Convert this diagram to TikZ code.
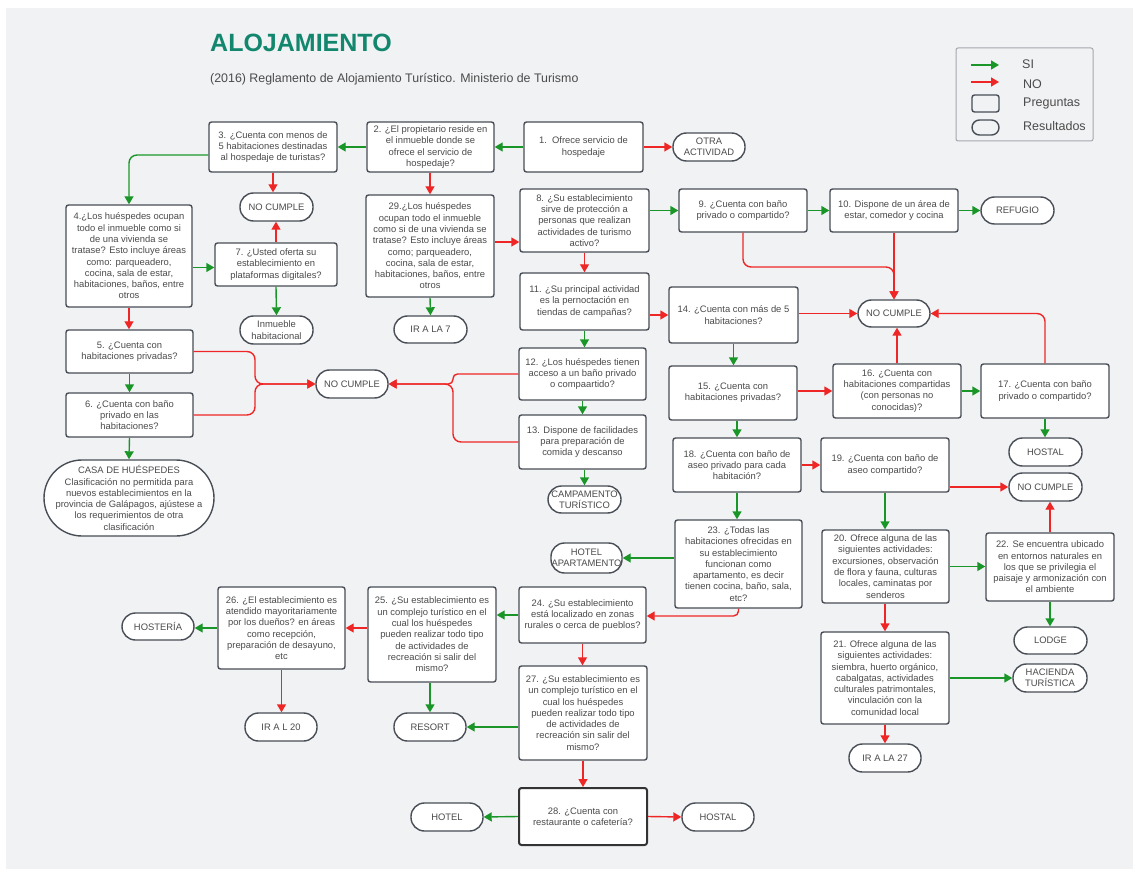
\documentclass[tikz,border=0pt]{standalone}
\usepackage{fontspec}
\setmainfont{Liberation Sans}
\usetikzlibrary{arrows.meta}

\definecolor{bg}{RGB}{241,242,244}
\definecolor{sigreen}{RGB}{26,150,40}
\definecolor{nored}{RGB}{238,38,38}
\definecolor{boxline}{RGB}{72,77,86}
\definecolor{txt}{RGB}{75,75,75}
\definecolor{titleteal}{RGB}{18,135,110}
\definecolor{legline}{RGB}{165,168,174}

\newcommand{\boxfont}{\fontsize{9.4}{11.3}\selectfont}
\newcommand{\legfont}{\fontsize{12.5}{14}\selectfont}

\tikzset{
  qbox/.style={draw=boxline, line width=1.4pt, fill=white, rounded corners=2.5pt,
    align=center, inner sep=0pt, font=\boxfont, text=txt},
  pill/.style={draw=boxline, line width=1.4pt, fill=white, rounded corners=13.5pt,
    align=center, inner sep=0pt, font=\boxfont, text=txt,
    minimum width=72pt, minimum height=28pt},
  si/.style={draw=sigreen, line width=1.4pt, rounded corners=8pt,
    -{Triangle[length=8pt,width=9pt]}},
  no/.style={draw=nored, line width=1.4pt, rounded corners=8pt,
    -{Triangle[length=8pt,width=9pt]}},
  legtxt/.style={anchor=west, inner sep=0pt, font=\legfont, text=txt},
}

\begin{document}
\begin{tikzpicture}[x=1pt,y=-1pt]
\useasboundingbox (0,0) rectangle (1137,874);
\fill[bg] (6,8) rectangle (1133,869);

% heading
\node[anchor=base west, inner sep=0pt, font=\fontsize{25}{30}\selectfont\bfseries, text=titleteal] (title) at (210,52) {ALOJAMIENTO};
\node[anchor=base west, inner sep=0pt, font=\fontsize{12.4}{14}\selectfont, text=txt] (subtitle) at (210,83) {(2016) Reglamento de Alojamiento Turístico. Ministerio de Turismo};

% legend
\node[draw=legline, line width=1pt, rounded corners=2pt, fill=bg, minimum width=137pt, minimum height=93pt] (legend) at (1024.5,94.5) {};
\coordinate (lgA) at (971,65);  \coordinate (lgB) at (999,65);
\coordinate (lrA) at (971,82);  \coordinate (lrB) at (999,82);
\draw[si, rounded corners=0pt] (lgA) -- (lgB);
\draw[no, rounded corners=0pt] (lrA) -- (lrB);
\node[draw=boxline, line width=1.4pt, rounded corners=2.5pt, minimum width=27pt, minimum height=17pt] (lq) at (985.5,103.5) {};
\node[draw=boxline, line width=1.4pt, rounded corners=7.5pt, minimum width=27pt, minimum height=15pt] (lp) at (985.5,127.5) {};
\node[legtxt] (lsi) at (1022,64) {SI};
\node[legtxt] (lno) at (1023,84) {NO};
\node[legtxt] (lpre) at (1023,104) {Preguntas};
\node[legtxt] (lres) at (1023,126) {Resultados};

% questions
\node[qbox, minimum width=119pt, minimum height=50pt] (n1) at (583.5,147) {1.\ \ Ofrece servicio de\\hospedaje};
\node[qbox, minimum width=127pt, minimum height=50pt] (n2) at (430.5,147) {2. ¿El propietario reside en\\el inmueble donde se\\ofrece el servicio de\\hospedaje?};
\node[qbox, minimum width=128pt, minimum height=50pt] (n3) at (273,147) {3. ¿Cuenta con menos de\\5 habitaciones destinadas\\al hospedaje de turistas?};
\node[qbox, minimum width=126pt, minimum height=102pt] (n4) at (129,256) {4.¿Los huéspedes ocupan\\todo el inmueble como si\\de una vivienda se\\tratase? Esto incluye áreas\\como: parqueadero,\\cocina, sala de estar,\\habitaciones, baños, entre\\otros};
\node[qbox, minimum width=122pt, minimum height=43pt] (n7) at (276,264.5) {7. ¿Usted oferta su\\establecimiento en\\plataformas digitales?};
\node[qbox, minimum width=127pt, minimum height=43pt] (n5) at (129.5,351.5) {5. ¿Cuenta con\\habitaciones privadas?};
\node[qbox, minimum width=127pt, minimum height=44pt] (n6) at (129.5,415) {6. ¿Cuenta con baño\\privado en las\\habitaciones?};
\node[qbox, minimum width=128pt, minimum height=102pt] (n29) at (430,246) {29.¿Los huéspedes\\ocupan todo el inmueble\\como si de una vivienda se\\tratase? Esto incluye áreas\\como; parqueadero,\\cocina, sala de estar,\\habitaciones, baños, entre\\otros};
\node[qbox, minimum width=129pt, minimum height=63pt] (n8) at (584.5,220.5) {8. ¿Su establecimiento\\sirve de protección a\\personas que realizan\\actividades de turismo\\activo?};
\node[qbox, minimum width=128pt, minimum height=43pt] (n9) at (743,210.5) {9. ¿Cuenta con baño\\privado o compartido?};
\node[qbox, minimum width=128pt, minimum height=43pt] (n10) at (894,210.5) {10. Dispone de un área de\\estar, comedor y cocina};
\node[qbox, minimum width=129pt, minimum height=57pt] (n11) at (584.5,301.5) {11. ¿Su principal actividad\\es la pernoctación en\\tiendas de campañas?};
\node[qbox, minimum width=129pt, minimum height=56pt] (n14) at (733.5,315) {14. ¿Cuenta con más de 5\\habitaciones?};
\node[qbox, minimum width=128pt, minimum height=54pt] (n15) at (733,393) {15. ¿Cuenta con\\habitaciones privadas?};
\node[qbox, minimum width=128pt, minimum height=54pt] (n16) at (897,391) {16. ¿Cuenta con\\habitaciones compartidas\\(con personas no\\conocidas)?};
\node[qbox, minimum width=128pt, minimum height=54pt] (n17) at (1045,391) {17. ¿Cuenta con baño\\privado o compartido?};
\node[qbox, minimum width=127pt, minimum height=52pt] (n12) at (582.5,374) {12. ¿Los huéspedes tienen\\acceso a un baño privado\\o compaartido?};
\node[qbox, minimum width=127pt, minimum height=54pt] (n13) at (582.5,442) {13. Dispone de facilidades\\para preparación de\\comida y descanso};
\node[qbox, minimum width=128pt, minimum height=54pt] (n18) at (737,465) {18. ¿Cuenta con baño de\\aseo privado para cada\\habitación?};
\node[qbox, minimum width=128pt, minimum height=54pt] (n19) at (885,465) {19. ¿Cuenta con baño de\\aseo compartido?};
\node[qbox, minimum width=127pt, minimum height=88pt] (n23) at (738.5,564) {23. ¿Todas las\\habitaciones ofrecidas en\\su establecimiento\\funcionan como\\apartamento, es decir\\tienen cocina, baño, sala,\\etc?};
\node[qbox, minimum width=127pt, minimum height=73pt] (n20) at (885.5,566.5) {20. Ofrece alguna de las\\siguientes actividades:\\excursiones, observación\\de flora y fauna, culturas\\locales, caminatas por\\senderos};
\node[qbox, minimum width=128pt, minimum height=68pt] (n22) at (1050,567) {22. Se encuentra ubicado\\en entornos naturales en\\los que se privilegia el\\paisaje y armonización con\\el ambiente};
\node[qbox, minimum width=128pt, minimum height=92pt] (n21) at (885,678) {21. Ofrece alguna de las\\siguientes actividades:\\siembra, huerto orgánico,\\cabalgatas, actividades\\culturales patrimontales,\\vinculación con la\\comunidad local};
\node[qbox, minimum width=127pt, minimum height=56pt] (n24) at (582.5,615) {24. ¿Su establecimiento\\está localizado en zonas\\rurales o cerca de pueblos?};
\node[qbox, minimum width=128pt, minimum height=95pt] (n25) at (432,634.5) {25. ¿Su establecimiento es\\un complejo turístico en el\\cual los huéspedes\\pueden realizar todo tipo\\de actividades de\\recreación si salir del\\mismo?};
\node[qbox, minimum width=127pt, minimum height=82pt] (n26) at (281.5,628) {26. ¿El establecimiento es\\atendido mayoritariamente\\por los dueños? en áreas\\como recepción,\\preparación de desayuno,\\etc};
\node[qbox, minimum width=128pt, minimum height=94pt] (n27) at (583,713) {27. ¿Su establecimiento es\\un complejo turístico en el\\cual los huéspedes\\pueden realizar todo tipo\\de actividades de\\recreación sin salir del\\mismo?};
\node[qbox, draw=black!80, line width=2pt, minimum width=128pt, minimum height=57pt] (n28) at (583,816.5) {28. ¿Cuenta con\\restaurante o cafetería?};

% results
\node[pill] (pOtra) at (709,147) {OTRA\\ACTIVIDAD};
\node[pill, minimum width=73pt] (pNCa) at (276.5,207) {NO CUMPLE};
\node[pill, minimum width=73pt] (pInm) at (276.5,330) {Inmueble\\habitacional};
\node[pill, rounded corners=38pt, minimum width=170pt, minimum height=76pt] (pCasa) at (129,498) {CASA DE HUÉSPEDES\\Clasificación no permitida para\\nuevos establecimientos en la\\provincia de Galápagos, ajústese a\\los requerimientos de otra\\clasificación};
\node[pill] (pNCb) at (352,384) {NO CUMPLE};
\node[pill, minimum width=73pt, minimum height=27pt] (pIR7) at (430.5,329.5) {IR A LA 7};
\node[pill, minimum width=73pt, minimum height=27pt] (pRef) at (1017.5,210.5) {REFUGIO};
\node[pill, minimum height=27pt] (pNCc) at (894,313.5) {NO CUMPLE};
\node[pill, minimum width=73pt] (pHostalA) at (1045.5,452) {HOSTAL};
\node[pill, minimum width=73pt] (pNCd) at (1045.5,487) {NO CUMPLE};
\node[pill, minimum width=73pt, minimum height=27pt] (pCamp) at (584.5,499.5) {CAMPAMENTO\\TURÍSTICO};
\node[pill, minimum width=71pt, minimum height=30pt] (pHotApt) at (586.5,558) {HOTEL\\APARTAMENTO};
\node[pill, minimum width=73pt, minimum height=27pt] (pLodge) at (1050.5,640.5) {LODGE};
\node[pill, minimum width=74pt] (pHac) at (1050,678) {HACIENDA\\TURÍSTICA};
\node[pill] (pIR27) at (885,758) {IR A LA 27};
\node[pill, minimum height=27pt] (pHost) at (158,626.5) {HOSTERÍA};
\node[pill] (pIRL20) at (281,727) {IR A L 20};
\node[pill] (pResort) at (430,727) {RESORT};
\node[pill] (pHotel) at (447,817) {HOTEL};
\node[pill] (pHostalB) at (718,817) {HOSTAL};

% junctions where two NO branches merge
\coordinate (jB) at (255,384);
\coordinate (jB2) at (453,384);
\coordinate (jC) at (894,267);

% SI connectors
\draw[si] (n1.west) -- (n2.east);
\draw[si] (n2.west) -- (n3.east);
\draw[si] ([yshift=-8pt]n3.west) -| (n4.north);
\draw[si] ([yshift=-3pt]n7.west -| n4.east) -- ([yshift=-3pt]n7.west);
\draw[si] (n7.south) -- (pInm.north);
\draw[si] (n5.south) -- (n6.north);
\draw[si] (n6.south) -- (pCasa.north);
\draw[si] (n29.south) -- (pIR7.north);
\draw[si] (n9.west -| n8.east) -- (n9.west);
\draw[si] (n9.east) -- (n10.west);
\draw[si] (n10.east) -- (pRef.west);
\draw[si] (n11.south) -- (n11.south |- n12.north);
\draw[si] (n12.south) -- (n13.north);
\draw[si] (n13.south -| pCamp.north) -- (pCamp.north);
\draw[si] (n14.south) -- (n14.south |- n15.north);
\draw[si] (n15.south -| n18.north) -- (n18.north);
\draw[si] (n16.east) -- (n17.west);
\draw[si] (n17.south) -- (n17.south |- pHostalA.north);
\draw[si] (n18.south) -- (n18.south |- n23.north);
\draw[si] (n19.south) -- (n19.south |- n20.north);
\draw[si] (n20.east) -- (n20.east -| n22.west);
\draw[si] (n22.south) -- (n22.south |- pLodge.north);
\draw[si] (n21.east) -- (pHac.west);
\draw[si] (pHotApt.east -| n23.west) -- (pHotApt.east);
\draw[si] (n24.west) -- (n24.west -| n25.east);
\draw[si] (n26.west) -- (n26.west -| pHost.east);
\draw[si] (n25.south -| pResort.north) -- (pResort.north);
\draw[si] (pResort.east -| n27.west) -- (pResort.east);
\draw[si] (n28.west) -- (pHotel.east);

% NO connectors
\draw[no] (n1.east) -- (pOtra.west);
\draw[no] (n3.south) -- (n3.south |- pNCa.north);
\draw[no] (n7.north) -- (n7.north |- pNCa.south);
\draw[no] (n4.south) -- (n4.south |- n5.north);
\draw[no] (n5.east) -| (jB) -- (pNCb.west);
\draw[no] (n6.east) -| (jB) -- (pNCb.west);
\draw[no, rounded corners=4.5pt] (n12.west) -| (jB2) -- (pNCb.east);
\draw[no] (n13.west) -| (jB2) -- (pNCb.east);
\draw[no] (n2.south -| n29.north) -- (n29.north);
\draw[no] ([yshift=4pt]n29.east) -- ([yshift=4pt]n29.east -| n8.west);
\draw[no] (n8.south) -- (n8.south |- n11.north);
\draw[no] (n14.west -| n11.east) -- (n14.west);
\draw[no] (n9.south) |- (jC) -- (pNCc.north);
\draw[no] (n10.south) -- (pNCc.north);
\draw[no] (pNCc.west -| n14.east) -- (pNCc.west);
\draw[no] (n16.north) -- (n16.north |- pNCc.south);
\draw[no] (n17.north) |- (pNCc.east);
\draw[no] (n16.west -| n15.east) -- (n16.west);
\draw[no] (n18.east) -- (n19.west);
\draw[no] (pNCd.west -| n19.east) -- (pNCd.west);
\draw[no] (n22.north) -- (n22.north |- pNCd.south);
\draw[no] (n20.south -| n21.north) -- (n21.north);
\draw[no] (n21.south) -- (n21.south |- pIR27.north);
\draw[no, rounded corners=5pt] (n23.south) |- ([yshift=-1pt]n24.east);
\draw[no] (n26.east -| n25.west) -- (n26.east);
\draw[no] (n26.south) -- (n26.south |- pIRL20.north);
\draw[no] (n24.south) -- (n24.south |- n27.north);
\draw[no] (n27.south) -- (n27.south |- n28.north);
\draw[no] (n28.east) -- (pHostalB.west);
\end{tikzpicture}
\end{document}
